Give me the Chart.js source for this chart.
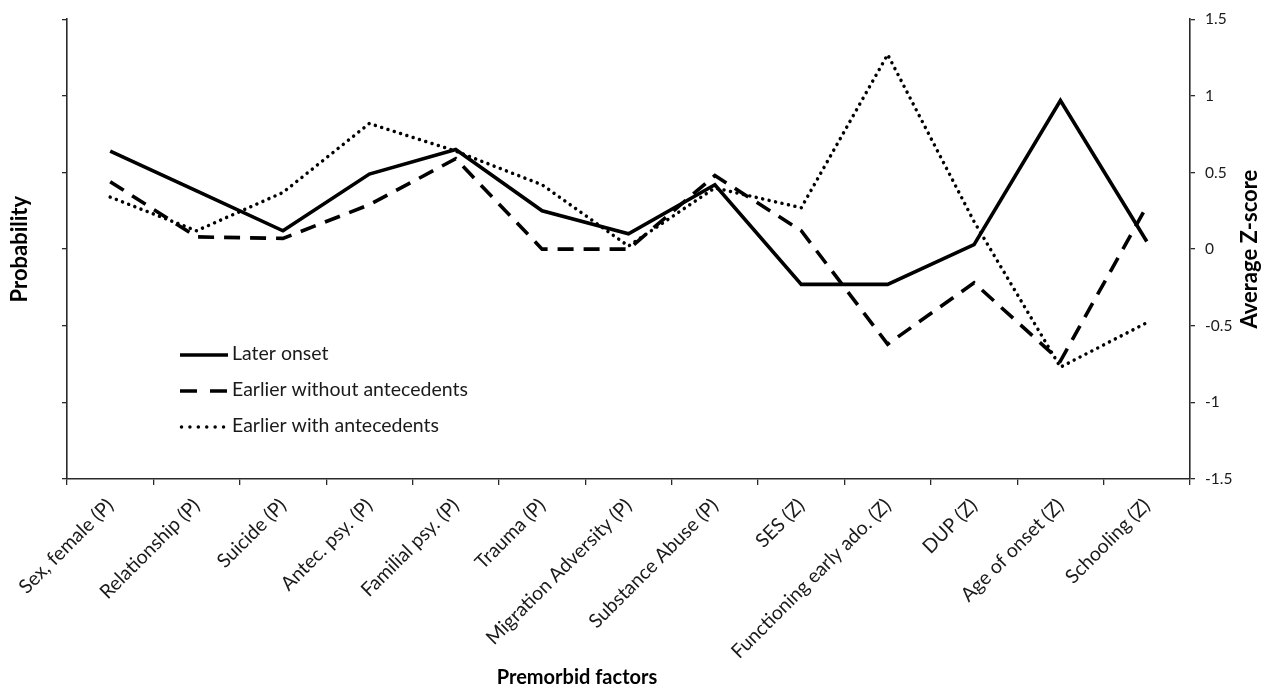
<!DOCTYPE html>
<html>
<head>
<meta charset="utf-8">
<script src="https://cdn.jsdelivr.net/npm/chart.js@4/dist/chart.umd.min.js"></script>
<style>
  html, body { margin: 0; padding: 0; background: #fff; }
  #wrap { width: 1269px; height: 690px; position: relative; }
</style>
</head>
<body>
<div id="wrap"><canvas id="chart" width="1269" height="690"></canvas></div>
<script>
// Premorbid factors: (P) = probability, (Z) = average z-score
const factors = [
  'Sex, female (P)', 'Relationship (P)', 'Suicide (P)', 'Antec. psy. (P)',
  'Familial psy. (P)', 'Trauma (P)', 'Migration Adversity (P)', 'Substance Abuse (P)',
  'SES (Z)', 'Functioning early ado. (Z)', 'DUP (Z)', 'Age of onset (Z)', 'Schooling (Z)'
];

const seriesNames = ['Later onset', 'Earlier without antecedents', 'Earlier with antecedents'];

const laterOnset     = [0.64, 0.38, 0.12, 0.49, 0.65, 0.25, 0.10, 0.42, -0.23, -0.23, 0.03, 0.97, 0.05];
const earlierWithout = [0.44, 0.08, 0.07, 0.29, 0.59, 0.00, 0.00, 0.48, 0.12, -0.62, -0.22, -0.73, 0.28];
const earlierWith    = [0.34, 0.12, 0.37, 0.82, 0.64, 0.42, 0.02, 0.40, 0.27, 1.27, 0.18, -0.77, -0.48];

const zTicks = [-1.5, -1, -0.5, 0, 0.5, 1, 1.5];

const axisTitles = { x: 'Premorbid factors', left: 'Probability', right: 'Average Z-score' };

const FONT = 'Lato, "Open Sans", "Liberation Sans", sans-serif';
const INK = '#1a1a1a';
const AXIS = '#2a2a2a';

const lineStyles = [
  { width: 3.6, dash: [], cap: 'butt', legendDash: [] },
  { width: 3.6, dash: [16, 10], cap: 'butt', legendDash: [17, 13] },
  { width: 3.5, dash: [0.01, 6.6], cap: 'round', legendDash: [0.01, 8.4] }
];

const seriesData = [laterOnset, earlierWithout, earlierWith];

const datasets = seriesData.map((vals, i) => ({
  label: seriesNames[i],
  data: vals,
  yAxisID: 'yZ',
  borderColor: '#000',
  backgroundColor: '#000',
  borderWidth: lineStyles[i].width,
  borderDash: lineStyles[i].dash,
  borderCapStyle: lineStyles[i].cap,
  borderJoinStyle: 'miter',
  pointRadius: 0,
  pointHoverRadius: 0,
  tension: 0,
  fill: false
}));

// Legend drawn inside the plot area, lower left
const innerLegend = {
  id: 'innerLegend',
  afterDraw(chart) {
    const { ctx, chartArea } = chart;
    const x0 = chartArea.left + 113;
    const x1 = x0 + 48;
    const rows = [355, 391, 427];
    ctx.save();
    ctx.font = '19.5px ' + FONT;
    ctx.fillStyle = INK;
    ctx.textBaseline = 'middle';
    ctx.textAlign = 'left';
    seriesNames.forEach((name, i) => {
      const y = rows[i];
      const st = lineStyles[i];
      ctx.beginPath();
      ctx.strokeStyle = '#000';
      ctx.lineWidth = st.width;
      ctx.lineCap = st.cap;
      ctx.setLineDash(st.legendDash);
      ctx.moveTo(x0 + (st.cap === 'round' ? 1.5 : 0), y);
      ctx.lineTo(x1, y);
      ctx.stroke();
      ctx.setLineDash([]);
      ctx.fillText(name, x1 + 4, y - 1);
    });
    ctx.restore();
  }
};

// Axis titles: both vertical titles read bottom-to-top
const axisTitlePlugin = {
  id: 'axisTitlePlugin',
  afterDraw(chart) {
    const { ctx, chartArea } = chart;
    const midY = (chartArea.top + chartArea.bottom) / 2;
    ctx.save();
    ctx.fillStyle = '#000';
    ctx.textAlign = 'center';
    ctx.textBaseline = 'middle';

    ctx.font = 'bold 20px ' + FONT;
    ctx.fillText(axisTitles.x, 577, 678);

    ctx.font = 'bold 22px ' + FONT;
    ctx.save();
    ctx.translate(20, midY);
    ctx.rotate(-Math.PI / 2);
    ctx.fillText(axisTitles.left, 0, 0);
    ctx.restore();

    ctx.save();
    ctx.translate(1250, midY);
    ctx.rotate(-Math.PI / 2);
    ctx.fillText(axisTitles.right, 0, 0);
    ctx.restore();

    ctx.restore();
  }
};

new Chart(document.getElementById('chart'), {
  type: 'line',
  data: { labels: factors, datasets },
  plugins: [innerLegend, axisTitlePlugin],
  options: {
    responsive: false,
    animation: false,
    devicePixelRatio: 1,
    layout: { padding: { top: 17, right: 0, bottom: 0, left: 0 } },
    plugins: {
      legend: { display: false },
      tooltip: { enabled: false }
    },
    scales: {
      x: {
        type: 'category',
        offset: true,
        grid: {
          offset: true,
          drawOnChartArea: false,
          drawTicks: true,
          tickLength: 6,
          color: AXIS,
          lineWidth: 1.3
        },
        border: { display: true, color: AXIS, width: 1.6 },
        ticks: {
          autoSkip: false,
          minRotation: 45,
          maxRotation: 45,
          padding: 9,
          color: INK,
          font: { family: FONT, size: 19.5 }
        },
        afterFit(scale) { scale.height = 211; }
      },
      yP: {
        position: 'left',
        min: -1.5,
        max: 1.5,
        afterBuildTicks(scale) { scale.ticks = zTicks.map(v => ({ value: v })); },
        grid: {
          drawOnChartArea: false,
          drawTicks: true,
          tickLength: 5,
          color: AXIS,
          lineWidth: 1.3
        },
        border: { display: true, color: AXIS, width: 1.6 },
        ticks: { display: false },
        afterFit(scale) { scale.width = 67; }
      },
      yZ: {
        position: 'right',
        min: -1.5,
        max: 1.5,
        afterBuildTicks(scale) { scale.ticks = zTicks.map(v => ({ value: v })); },
        grid: {
          drawOnChartArea: false,
          drawTicks: true,
          tickLength: 5,
          color: AXIS,
          lineWidth: 1.3
        },
        border: { display: true, color: AXIS, width: 1.6 },
        ticks: {
          padding: 10,
          color: INK,
          font: { family: FONT, size: 15.5 },
          callback(value) { return String(value); }
        },
        afterFit(scale) { scale.width = 79; }
      }
    }
  }
});
</script>
</body>
</html>
